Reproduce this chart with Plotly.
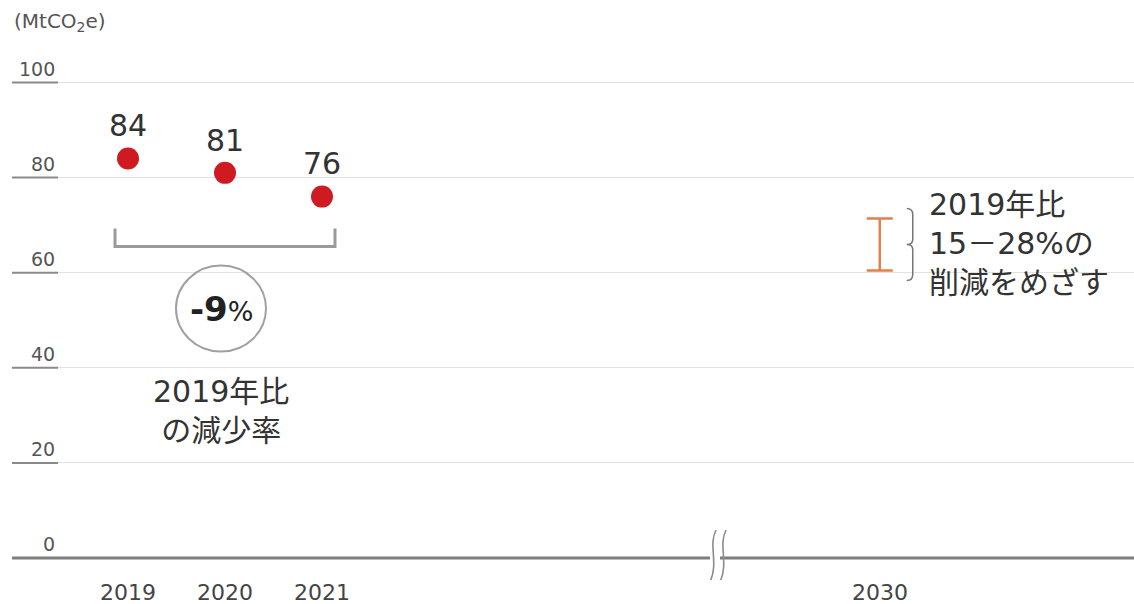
import plotly.graph_objects as go

# ---- data -------------------------------------------------------------
YEARS = [2019, 2020, 2021]
EMISSIONS = [84, 81, 76]            # MtCO2e
TARGET_YEAR = 2030
TARGET_CUT_PCT = [15, 28]           # reduction vs. 2019, %
Y_TICKS = [0, 20, 40, 60, 80, 100]
X_TICK_YEARS = [2019, 2020, 2021, 2030]
UNIT_LABEL = "(MtCO<sub>2</sub>e)"
CHANGE_LABEL = "-9"
CHANGE_NOTE = "2019年比<br>の減少率"
TARGET_NOTE = "2019年比<br>15－28%の<br>削減をめざす"

# ---- styling ----------------------------------------------------------
FONT = "DejaVu Sans, Noto Sans CJK JP, sans-serif"
RED = "#cf1a22"
ORANGE = "#e3804b"
TEXT = "#333333"
GRID = "#e2e2e2"
BASE = "#7f7f7f"

W, H = 1134, 604
M_L, M_R, M_T, M_B = 12, 0, 20, 24
PX_PER_SLOT = 97.0
PX_PER_UNIT = 4.755
BREAK_GAP = 3.25                    # years folded away by the axis break


def slot(year):
    """Horizontal position of a year on the broken time axis."""
    return year - YEARS[0] if year <= YEARS[-1] else year - YEARS[0] - BREAK_GAP


def ox(px):
    return px / PX_PER_SLOT


def oy(px):
    return px / PX_PER_UNIT


x_left = -ox(128 - M_L)
x_right = x_left + (W - M_L - M_R) / PX_PER_SLOT
y_bottom = -oy(580 - 558)
y_top = y_bottom + (H - M_T - M_B) / PX_PER_UNIT

xs = [slot(y) for y in YEARS]
x_target = slot(TARGET_YEAR)
base_val = EMISSIONS[0]
t_high = base_val * (1 - TARGET_CUT_PCT[0] / 100)
t_low = base_val * (1 - TARGET_CUT_PCT[1] / 100)
break_x = slot(YEARS[-1]) + ox(391)

fig = go.Figure()

# actual emissions
fig.add_trace(go.Scatter(
    x=xs, y=EMISSIONS, mode="markers+text",
    marker=dict(size=22, color=RED),
    text=[str(v) for v in EMISSIONS], textposition="top center",
    textfont=dict(family=FONT, size=30, color=TEXT),
    hoverinfo="skip", showlegend=False, cliponaxis=False,
))

# 2030 target range
fig.add_trace(go.Scatter(
    x=[x_target], y=[t_high], mode="markers",
    marker=dict(size=1, color=ORANGE, opacity=0),
    error_y=dict(type="data", symmetric=False, array=[0],
                 arrayminus=[t_high - t_low], color=ORANGE,
                 thickness=2.5, width=13),
    hoverinfo="skip", showlegend=False,
))

shapes = []
# zero baseline
shapes.append(dict(type="line", xref="paper", yref="y", x0=0, x1=1, y0=0, y1=0,
                   line=dict(color=BASE, width=3), layer="above"))
# darker stubs under the y tick labels
for v in Y_TICKS[1:]:
    shapes.append(dict(type="line", xref="paper", yref="y", x0=0,
                       x1=(58 - M_L) / (W - M_L - M_R), y0=v, y1=v,
                       line=dict(color="#8a8a8a", width=2), layer="above"))

# axis break
shapes.append(dict(type="rect", xref="x", yref="y",
                   x0=break_x - ox(3), x1=break_x + ox(7),
                   y0=-oy(5), y1=oy(5), fillcolor="white",
                   line=dict(width=0), layer="above"))
for dxp in (0, 10):
    bx = break_x + ox(dxp)
    path = (f"M {bx + ox(3)},{oy(28)} "
            f"C {bx - ox(5)},{oy(12)} {bx + ox(6)},{-oy(4)} {bx - ox(3)},{-oy(24)}")
    shapes.append(dict(type="path", xref="x", yref="y", path=path,
                       line=dict(color="#8c8c8c", width=1.6), layer="above"))

# bracket under the three actual points
br_y = min(EMISSIONS) - oy(50)
bx0, bx1 = xs[0] - ox(13), xs[-1] + ox(13)
shapes.append(dict(type="path", xref="x", yref="y",
                   path=f"M {bx0},{br_y + oy(18)} L {bx0},{br_y} L {bx1},{br_y} L {bx1},{br_y + oy(18)}",
                   line=dict(color="#9a9a9a", width=3)))

# circle around the change label
cx = sum(xs) / len(xs) - ox(4)
cy = br_y - oy(62)
shapes.append(dict(type="circle", xref="x", yref="y",
                   xsizemode="pixel", ysizemode="pixel",
                   xanchor=cx, yanchor=cy, x0=-45, x1=45, y0=-43, y1=43,
                   line=dict(color="#a0a0a0", width=2)))

# curly brace beside the target range
bx = x_target + ox(27)
t_mid = (t_high + t_low) / 2
top, bot = t_high + oy(10), t_low - oy(10)
brace = (f"M {bx},{top} Q {bx + ox(6)},{top} {bx + ox(6)},{top - oy(6)} "
         f"L {bx + ox(6)},{t_mid + oy(5)} Q {bx + ox(6)},{t_mid} {bx},{t_mid} "
         f"Q {bx + ox(6)},{t_mid} {bx + ox(6)},{t_mid - oy(5)} "
         f"L {bx + ox(6)},{bot + oy(6)} Q {bx + ox(6)},{bot} {bx},{bot}")
shapes.append(dict(type="path", xref="x", yref="y", path=brace,
                   line=dict(color="#777777", width=1.5)))

annotations = []
# y tick labels sitting on top of their gridlines
for v in Y_TICKS:
    annotations.append(dict(xref="paper", yref="y", x=(57 - M_L) / (W - M_L - M_R), y=v,
                            xanchor="right", yanchor="bottom", yshift=1,
                            text=str(v), showarrow=False,
                            font=dict(family=FONT, size=19, color="#555555")))
# year labels under the baseline
for yr in X_TICK_YEARS:
    annotations.append(dict(xref="x", yref="paper", x=slot(yr), y=0,
                            xanchor="center", yanchor="middle", yshift=-12,
                            text=str(yr), showarrow=False,
                            font=dict(family=FONT, size=22, color="#444444")))
annotations.append(dict(xref="paper", yref="paper", x=0, y=1, yshift=-2,
                        xanchor="left", yanchor="middle", text=UNIT_LABEL,
                        showarrow=False, font=dict(family=FONT, size=20, color="#555555")))
annotations.append(dict(xref="x", yref="y", x=cx, y=cy, showarrow=False,
                        text=f"<b>{CHANGE_LABEL}</b><span style='font-size:27px'>%</span>",
                        font=dict(family=FONT, size=34, color="#222222")))
annotations.append(dict(xref="x", yref="y", x=cx, y=cy - oy(102), showarrow=False,
                        text=CHANGE_NOTE, align="center",
                        font=dict(family=FONT, size=30, color=TEXT)))
annotations.append(dict(xref="x", yref="y", x=x_target + ox(47), y=t_mid + oy(1),
                        xanchor="left", yanchor="middle", showarrow=False,
                        text=TARGET_NOTE, align="left",
                        font=dict(family=FONT, size=30, color=TEXT)))

fig.update_layout(
    width=W, height=H,
    margin=dict(l=M_L, r=M_R, t=M_T, b=M_B, autoexpand=False),
    paper_bgcolor="white", plot_bgcolor="white",
    shapes=shapes, annotations=annotations,
    xaxis=dict(range=[x_left, x_right], showgrid=False, zeroline=False,
               showline=False, ticks="", automargin=False, showticklabels=False),
    yaxis=dict(range=[y_bottom, y_top], tickvals=Y_TICKS, showticklabels=False,
               showgrid=True, gridcolor=GRID, gridwidth=1, zeroline=False,
               showline=False, ticks="", automargin=False),
)

fig.write_html("out.html")
